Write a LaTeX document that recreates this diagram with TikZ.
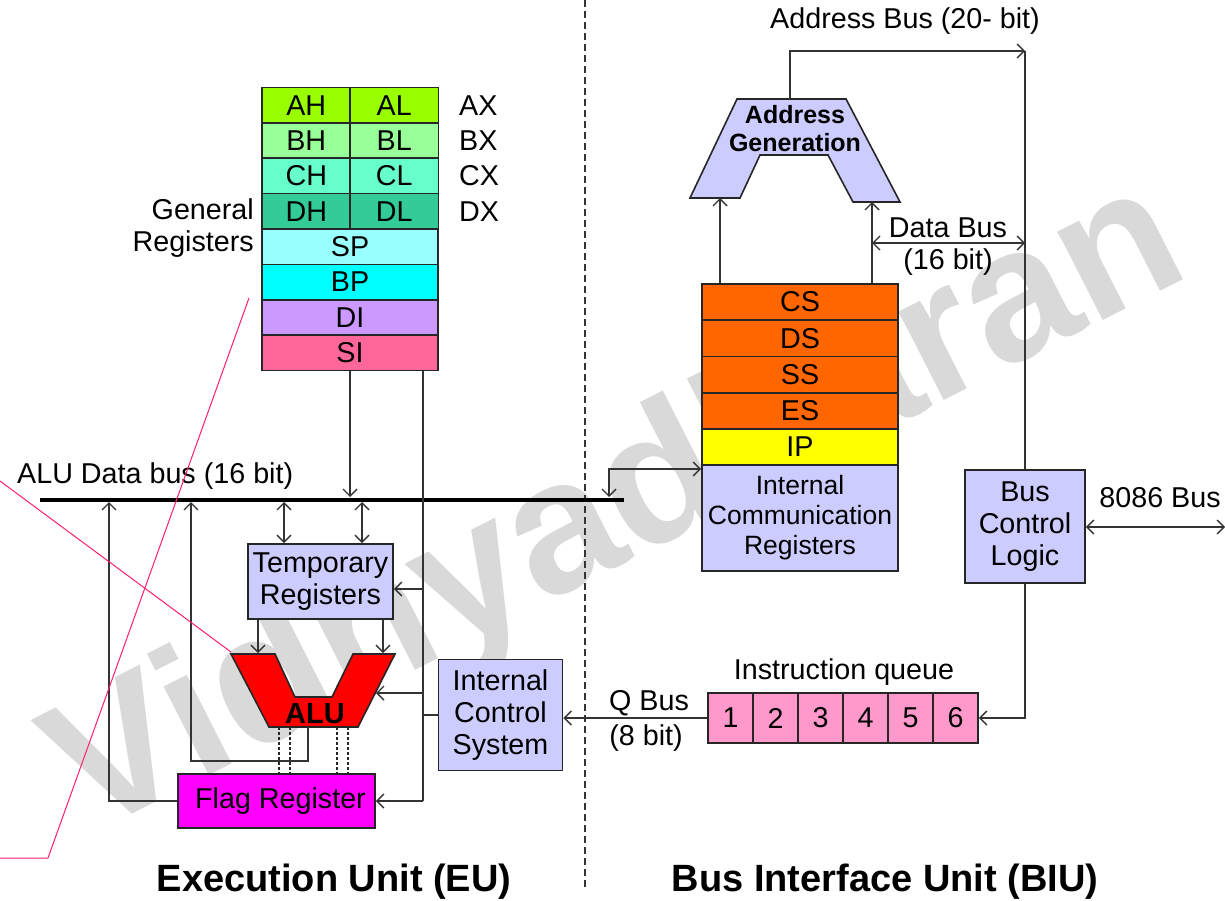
\documentclass[tikz,border=0pt]{standalone}
\usepackage{fontspec}
\setmainfont{Liberation Sans}
\usetikzlibrary{arrows.meta}
\definecolor{cAX}{HTML}{99FF00}
\definecolor{cBX}{HTML}{99FF99}
\definecolor{cCX}{HTML}{66FFCC}
\definecolor{cDX}{HTML}{33CC99}
\definecolor{cSP}{HTML}{99FFFF}
\definecolor{cBP}{HTML}{00FFFF}
\definecolor{cDI}{HTML}{CC99FF}
\definecolor{cSI}{HTML}{FF6699}
\definecolor{seg}{HTML}{FF6600}
\definecolor{ipc}{HTML}{FFFF00}
\definecolor{lav}{HTML}{CCCCFF}
\definecolor{flagc}{HTML}{FF00FF}
\definecolor{queuec}{HTML}{FF99CC}
\definecolor{alured}{HTML}{FF0000}
\definecolor{annot}{HTML}{FF1F6B}
\definecolor{wmark}{HTML}{D9D9D9}
\begin{document}
\begin{tikzpicture}[x=1pt,y=-1pt,
  every node/.style={font=\fontsize{28.7}{32}\selectfont, inner sep=0pt},
  box/.style={draw=black!85, line width=1.6pt, align=center, inner sep=0pt},
  halfreg/.style={box, minimum width=88.5pt, minimum height=35.4pt},
  fullreg/.style={box, minimum width=176pt, minimum height=35.4pt},
  segreg/.style={box, minimum width=196pt, minimum height=36.25pt},
  qcell/.style={box, fill=queuec, minimum width=45pt, minimum height=50pt},
  conn/.style={draw=black!80, line width=1.4pt},
  dots/.style={draw=black!85, line width=1.5pt, dash pattern=on 3pt off 2pt},
  title/.style={font=\bfseries\fontsize{38}{42}\selectfont},
  >={Straight Barb[length=7pt,width=14pt]},
]
\useasboundingbox (0,0) rectangle (1225,901);
\fill[white] (0,0) rectangle (1225,901);

% watermark
\node[rotate=27, text=wmark, font=\bfseries\fontsize{188}{188}\selectfont] (wm) at (619,512) {Vidhyadharan};

% divider
\coordinate (divT) at (585,0);
\coordinate (divB) at (585,890);
\draw[black!80, line width=1.5pt, dash pattern=on 7pt off 4pt] (divT) -- (divB);

% ---------- General registers ----------
\node[halfreg, fill=cAX] (AH) at (306.25,105.19) {AH};
\node[halfreg, fill=cAX] (AL) at (394.25,105.19) {AL};
\node[halfreg, fill=cBX] (BH) at (306.25,140.56) {BH};
\node[halfreg, fill=cBX] (BL) at (394.25,140.56) {BL};
\node[halfreg, fill=cCX] (CH) at (306.25,175.94) {CH};
\node[halfreg, fill=cCX] (CL) at (394.25,175.94) {CL};
\node[halfreg, fill=cDX] (DH) at (306.25,211.31) {DH};
\node[halfreg, fill=cDX] (DL) at (394.25,211.31) {DL};
\node[fullreg, fill=cSP] (SP) at (350,246.69) {SP};
\node[fullreg, fill=cBP] (BP) at (350,282.06) {BP};
\node[fullreg, fill=cDI] (DI) at (350,317.44) {DI};
\node[fullreg, fill=cSI] (SI) at (350,352.81) {SI};
\node[anchor=west] (AX) at (459,105.19) {AX};
\node[anchor=west] (BX) at (459,140.56) {BX};
\node[anchor=west] (CX) at (459,175.94) {CX};
\node[anchor=west] (DX) at (459,211.31) {DX};
\node[anchor=east, align=right] (GR) at (254,228) {General\\Registers};

% ---------- ALU data bus ----------
\coordinate (busL) at (40,500);
\coordinate (busR) at (624,500);
\draw[black, line width=4pt] (busL) -- (busR);
\node[anchor=west] (busLbl) at (17,476) {ALU Data bus (16 bit)};

\coordinate (regDown) at (350,497);
\draw[conn,->] (SI.south) -- (regDown);
\coordinate (ctrlTop) at (423,370.5);
\coordinate (ctrlBot) at (423,801);
\draw[conn] (ctrlTop) -- (ctrlBot);

% Temporary registers
\node[box, fill=lav, minimum width=145pt, minimum height=75pt] (TR) at (320.5,581.5) {Temporary\\Registers};
\coordinate (b1) at (284,502);
\coordinate (b2) at (362,502);
\draw[conn,<->] (b1) -- (b1 |- TR.north);
\draw[conn,<->] (b2) -- (b2 |- TR.north);
\coordinate (c1) at (423,589);
\draw[conn,->] (c1) -- (c1 -| TR.east);

% ALU
\draw[fill=alured, draw=black!85, line width=1.6pt]
  (231,654) -- (275,654) -- (295,697) -- (332,697) -- (353,654) -- (395,654)
  -- (358,727) -- (269,727) -- cycle;
\node[font=\bfseries\fontsize{29}{32}\selectfont] (ALU) at (315,714) {ALU};
\coordinate (aluIn1) at (258,653);
\coordinate (aluIn2) at (383,653);
\draw[conn,->] (TR.south -| aluIn1) -- (aluIn1);
\draw[conn,->] (TR.south -| aluIn2) -- (aluIn2);
\coordinate (c2) at (423,693);
\coordinate (aluR) at (376,693);
\draw[conn,->] (c2) -- (aluR);

% Flag register
\node[box, fill=flagc, minimum width=197pt, minimum height=54pt] (FR) at (276.5,801) {\hspace{8pt}Flag Register};
\foreach \xx in {279,290,337,348} {
  \coordinate (dtop) at (\xx,727);
  \draw[dots] (dtop) -- (dtop |- FR.north);
}
\coordinate (aluOut) at (308,727);
\coordinate (b3) at (191,502);
\draw[conn,->] (aluOut) -- (308,761) -- (191,761) -- (b3);
\coordinate (b4) at (109,502);
\draw[conn,->] (FR.west) -- (FR.west -| b4) -- (b4);
\draw[conn,->] (ctrlBot) -- (FR.east);

% Internal control system
\node[box, fill=lav, minimum width=124pt, minimum height=111pt] (ICS) at (500.5,715) {Internal\\Control\\System};
\coordinate (c3) at (423,715);
\draw[conn] (c3) -- (ICS.west);

% ---------- BIU ----------
\node[segreg, fill=seg] (CS) at (800,302.1) {CS};
\node[segreg, fill=seg] (DS) at (800,338.4) {DS};
\node[segreg, fill=seg] (SS) at (800,374.6) {SS};
\node[segreg, fill=seg] (ES) at (800,410.9) {ES};
\node[segreg, fill=ipc] (IP) at (800,447.1) {IP};
\node[box, fill=lav, minimum width=196pt, minimum height=105.75pt, font=\fontsize{26.5}{30}\selectfont] (ICR) at (800,518.1) {Internal\\Communication\\Registers};

% Address generation
\draw[fill=lav, draw=black!85, line width=1.6pt]
  (737,99) -- (846,99) -- (900,202) -- (853,202) -- (828,155) -- (760,155)
  -- (740,198) -- (690,198) -- cycle;
\node[font=\bfseries\fontsize{25}{28}\selectfont, align=center] (AG) at (795,129) {Address\\Generation};
\coordinate (agIn1) at (720,198);
\coordinate (agIn2) at (872,202);
\draw[conn,->] (CS.north -| agIn1) -- (agIn1);
\draw[conn,->] (CS.north -| agIn2) -- (agIn2);

% address bus
\coordinate (agOut) at (790,99);
\coordinate (abCorner) at (1025,51);
\draw[conn,->] (agOut) -- (790,51) -- (abCorner);
\node (abLbl) at (905,21) {Address Bus (20- bit)};

% data bus
\coordinate (dbL) at (872,243);
\coordinate (dbR) at (1025,243);
\draw[conn,<->] (dbL) -- (dbR);
\node (dbLbl1) at (948,228) {Data Bus};
\node (dbLbl2) at (948,262) {(16 bit)};

% bus control logic
\node[box, fill=lav, minimum width=120pt, minimum height=113pt] (BCL) at (1025,526.5) {Bus\\Control\\Logic};
\draw[conn] (abCorner) -- (BCL.north);
\coordinate (extBus) at (1225,527);
\draw[conn,<->] (BCL.east |- extBus) -- (extBus);
\node (extLbl) at (1160,498) {8086 Bus};

% instruction queue
\node[qcell] (Q1) at (730.5,718) {1};
\node[qcell] (Q2) at (775.5,718) {2};
\node[qcell] (Q3) at (820.5,718) {3};
\node[qcell] (Q4) at (865.5,718) {4};
\node[qcell] (Q5) at (910.5,718) {5};
\node[qcell] (Q6) at (955.5,718) {6};
\node (iqLbl) at (844,672) {Instruction queue};
\coordinate (bclDown) at (1025,718);
\draw[conn,->] (BCL.south) -- (bclDown) -- (Q6.east);
\draw[conn,->] (Q1.west) -- (ICS.east |- Q1.west);
\node (qb1) at (649,703) {Q Bus};
\node (qb2) at (646,738) {(8 bit)};

% link bus <-> internal communication registers
\coordinate (lnk) at (609,469);
\coordinate (lnkBus) at (609,497);
\draw[conn,<->] (lnkBus) -- (lnk) -- (lnk -| ICR.west);

% bottom titles
\node[title] (EU) at (334,882) {Execution Unit (EU)};
\node[title] (BIU) at (885,882) {Bus Interface Unit (BIU)};

% annotation strokes
\coordinate (pA1) at (0,481);
\coordinate (pA2) at (231,652);
\draw[annot, line width=1pt] (pA1) -- (pA2);
\coordinate (pB1) at (249,298);
\coordinate (pB2) at (48,858);
\coordinate (pB3) at (0,858);
\draw[annot, line width=1pt] (pB1) -- (pB2) -- (pB3);
\end{tikzpicture}
\end{document}
